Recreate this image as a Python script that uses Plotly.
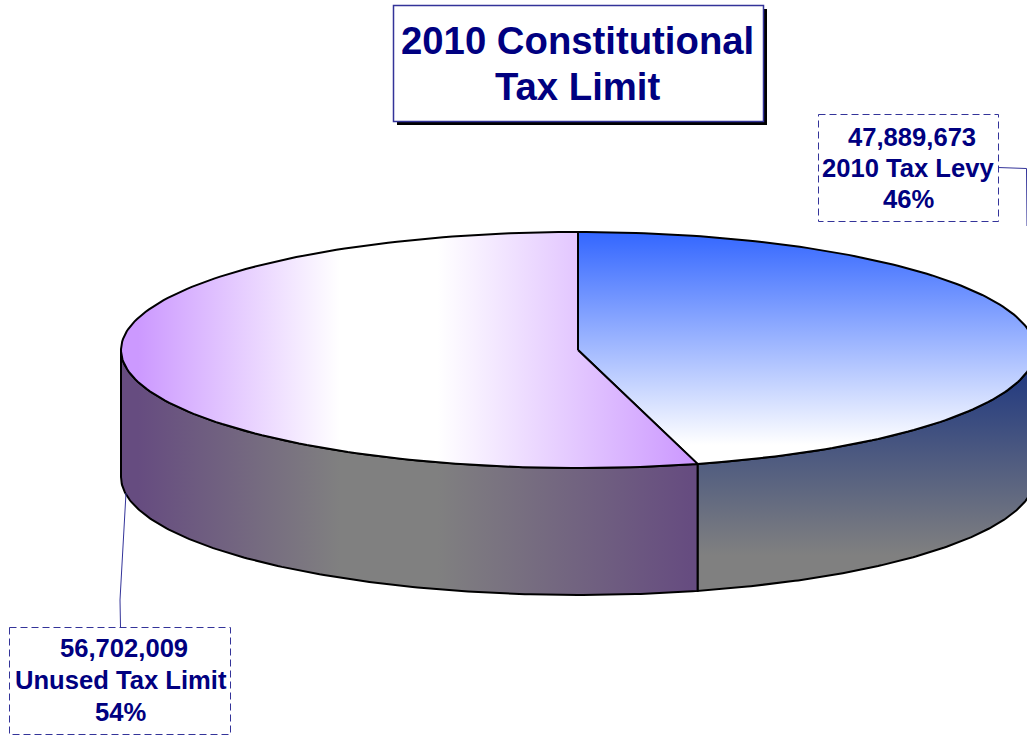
import numpy as np
import plotly.graph_objects as go

# Slice data, clockwise from twelve o'clock
slice_names = ["2010 Tax Levy", "Unused Tax Limit"]
slice_values = [47889673, 56702009]
title_lines = ["2010 Constitutional", "Tax Limit"]

# Pie projection on the pixel canvas
CX, CY, RX, RY, DEPTH = 578, 350, 457, 118, 127
W, H = 1027, 735
NAVY = "#000080"
EDGE = "#333399"

total = sum(slice_values)
edges = np.cumsum([0] + slice_values) / total * 2 * np.pi


def rim(a0, a1, drop=0):
    t = np.linspace(a0, a1, 160)
    return CX + RX * np.sin(t), CY - RY * np.cos(t) + drop


def area(x, y, colors, kind, start, stop):
    return go.Scatter(
        x=x, y=y, mode="lines", fill="toself",
        line=dict(color="black", width=2),
        fillgradient=dict(type=kind, colorscale=colors, start=start, stop=stop),
        hoverinfo="skip", showlegend=False,
    )


def side(a0, a1, colors, kind, start, stop):
    xt, yt = rim(a0, a1)
    xb, yb = rim(a1, a0, DEPTH)
    return area(np.r_[xt, xb, xt[0]], np.r_[yt, yb, yt[0]], colors, kind, start, stop)


def top(a0, a1, colors, kind, start, stop):
    xt, yt = rim(a0, a1)
    return area(np.r_[CX, xt, CX], np.r_[CY, yt, CY], colors, kind, start, stop)


band = [0, 0.03, 0.38, 0.549, 0.988, 1]
purple_top = [[p, c] for p, c in zip(band, ["#CC99FF", "#CC99FF", "#FFFFFF", "#FFFFFF", "#CC99FF", "#CC99FF"])]
purple_side = [[p, c] for p, c in zip(band, ["#664C80", "#664C80", "#808080", "#808080", "#664C80", "#664C80"])]
blue_top = [[0, "#3366FF"], [1, "#FFFFFF"]]
blue_side = [[0, "#193380"], [1, "#808080"]]

x_span = (CX - RX, CX + RX * np.sin(edges[1]))

fig = go.Figure()
fig.add_trace(side(np.pi / 2, edges[1], blue_side, "vertical", 355, 555))
fig.add_trace(side(edges[1], 1.5 * np.pi, purple_side, "horizontal", *x_span))
fig.add_trace(top(0, edges[1], blue_top, "vertical", CY - RY, 445))
fig.add_trace(top(edges[1], edges[2], purple_top, "horizontal", *x_span))

# Leader lines from the label boxes to the pie
fig.add_trace(go.Scatter(x=[998, 1026.5, 1027], y=[167.5, 168.5, 226], mode="lines",
                         line=dict(color=EDGE, width=1), hoverinfo="skip", showlegend=False))
fig.add_trace(go.Scatter(x=[120.5, 120, 126], y=[627, 600, 493], mode="lines",
                         line=dict(color=EDGE, width=1), hoverinfo="skip", showlegend=False))


def label_lines(i):
    pct = round(slice_values[i] / total * 100)
    return [f"{slice_values[i]:,}", slice_names[i], f"{pct}%"]


shapes = [
    dict(type="rect", x0=397, y0=9, x1=767, y1=125, fillcolor="black", line_width=0),
    dict(type="rect", x0=393.5, y0=5.5, x1=763.5, y1=121.5, fillcolor="white",
         line=dict(color=EDGE, width=1.5)),
    dict(type="rect", x0=818.5, y0=114.5, x1=998.5, y1=221.5, fillcolor="white",
         line=dict(color=EDGE, width=1, dash="7px,4px")),
    dict(type="rect", x0=9.5, y0=627.5, x1=230.5, y1=734.5, fillcolor="white",
         line=dict(color=EDGE, width=1, dash="7px,4px")),
]


def text_line(x, y, text, size):
    return dict(x=x, y=y, text=text, showarrow=False, xanchor="center", yanchor="middle",
                font=dict(family="Liberation Sans", size=size, color=NAVY, weight="bold"))


annotations = [
    text_line(577.5, 40, title_lines[0], 38.3),
    text_line(578, 86.5, title_lines[1], 38.3),
]
for i, (xc, rows) in enumerate([(908, (137, 168, 199)), (120.5, (648, 679.5, 711.5))]):
    for j, (row, line) in enumerate(zip(rows, label_lines(i))):
        annotations.append(text_line(xc + (3.5 if j == 0 else 0), row, line, 25.6))

fig.update_layout(
    width=W, height=H, margin=dict(l=0, r=0, t=0, b=0),
    paper_bgcolor="white", plot_bgcolor="white",
    xaxis=dict(range=[0, W], visible=False, fixedrange=True),
    yaxis=dict(range=[H, 0], visible=False, fixedrange=True),
    shapes=shapes, annotations=annotations,
)
fig.write_html("out.html", config=dict(displayModeBar=False))
